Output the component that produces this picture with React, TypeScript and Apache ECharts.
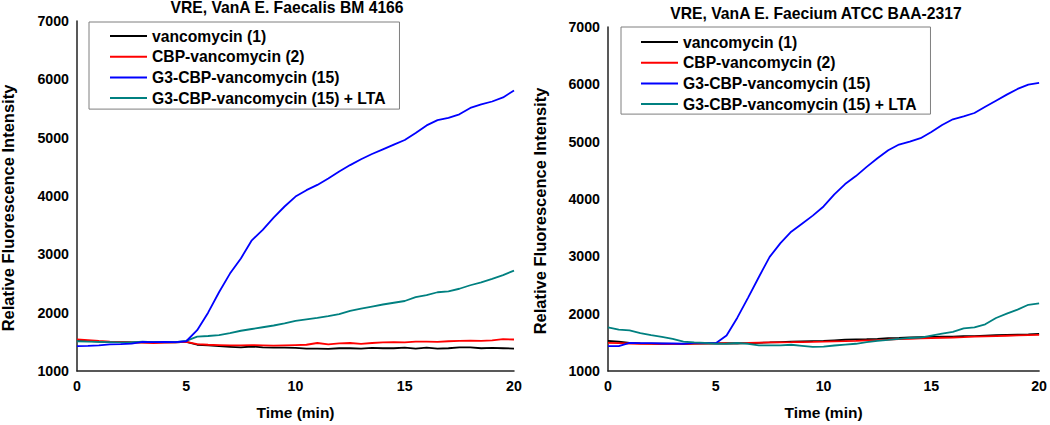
import React, { useEffect, useRef } from "react";
import * as echarts from "echarts";

const TIME = [0, 0.5, 1, 1.5, 2, 2.5, 3, 3.5, 4, 4.5, 5, 5.5, 6, 6.5, 7, 7.5, 8, 8.5, 9, 9.5, 10, 10.5, 11, 11.5, 12, 12.5, 13, 13.5, 14, 14.5, 15, 15.5, 16, 16.5, 17, 17.5, 18, 18.5, 19, 19.5, 20];

const SERIES_NAMES = ["vancomycin (1)", "CBP-vancomycin (2)", "G3-CBP-vancomycin (15)", "G3-CBP-vancomycin (15) + LTA"];
const COLORS = ["#000000", "#ff0000", "#0000ff", "#008080"];

const TITLE_LEFT = "VRE, VanA E. Faecalis BM 4166";
const TITLE_RIGHT = "VRE, VanA E. Faecium ATCC BAA-2317";
const X_NAME = "Time (min)";
const Y_NAME = "Relative Fluorescence Intensity";

// Left panel: E. faecalis
const L_VAN = [1520, 1515, 1505, 1500, 1495, 1490, 1495, 1490, 1495, 1490, 1500, 1450, 1440, 1425, 1415, 1405, 1420, 1405, 1400, 1400, 1395, 1385, 1385, 1380, 1390, 1390, 1385, 1395, 1390, 1390, 1400, 1385, 1400, 1385, 1390, 1405, 1405, 1390, 1395, 1390, 1385];
const L_CBP = [1540, 1530, 1515, 1505, 1500, 1490, 1485, 1480, 1485, 1490, 1500, 1460, 1450, 1445, 1440, 1440, 1445, 1440, 1435, 1440, 1445, 1450, 1480, 1455, 1475, 1480, 1465, 1480, 1490, 1495, 1490, 1505, 1505, 1500, 1510, 1515, 1520, 1515, 1525, 1545, 1540];
const L_G3 = [1425, 1430, 1440, 1455, 1460, 1470, 1500, 1495, 1500, 1495, 1510, 1700, 2000, 2350, 2670, 2930, 3240, 3420, 3630, 3820, 3990, 4100, 4190, 4300, 4420, 4530, 4630, 4720, 4800, 4880, 4960, 5080, 5210, 5300, 5340, 5400, 5510, 5570, 5620, 5690, 5810];
const L_G3LTA = [1510, 1505, 1500, 1495, 1490, 1490, 1505, 1495, 1500, 1495, 1515, 1590, 1600, 1615, 1650, 1690, 1720, 1750, 1780, 1815, 1860, 1885, 1910, 1940, 1975, 2030, 2070, 2105, 2140, 2170, 2200, 2265, 2300, 2350, 2365, 2410, 2470, 2520, 2580, 2645, 2720];

// Right panel: E. faecium
const R_VAN = [1525, 1510, 1490, 1482, 1478, 1475, 1472, 1472, 1478, 1482, 1480, 1478, 1480, 1485, 1492, 1498, 1505, 1510, 1515, 1520, 1525, 1535, 1545, 1550, 1555, 1562, 1572, 1578, 1585, 1590, 1595, 1598, 1601, 1608, 1610, 1618, 1625, 1630, 1635, 1640, 1647];
const R_CBP = [1490, 1485, 1480, 1475, 1472, 1470, 1468, 1470, 1478, 1482, 1485, 1488, 1490, 1490, 1495, 1498, 1500, 1502, 1505, 1508, 1512, 1518, 1522, 1527, 1535, 1540, 1549, 1555, 1560, 1570, 1575, 1580, 1584, 1590, 1598, 1605, 1610, 1615, 1620, 1625, 1630];
const R_G3 = [1433, 1435, 1490, 1485, 1485, 1480, 1480, 1475, 1490, 1490, 1485, 1620, 1930, 2280, 2640, 2990, 3230, 3430, 3570, 3710, 3870, 4080, 4260, 4400, 4560, 4710, 4850, 4950, 5000, 5060, 5170, 5290, 5390, 5440, 5500, 5610, 5715, 5820, 5920, 5995, 6025];
const R_G3LTA = [1763, 1720, 1707, 1660, 1625, 1595, 1560, 1513, 1500, 1490, 1476, 1480, 1492, 1475, 1446, 1446, 1446, 1458, 1440, 1420, 1425, 1445, 1460, 1475, 1502, 1525, 1543, 1562, 1576, 1584, 1618, 1650, 1682, 1742, 1760, 1815, 1925, 2000, 2070, 2155, 2180];

const LEFT_DATA = [L_VAN, L_CBP, L_G3, L_G3LTA];
const RIGHT_DATA = [R_VAN, R_CBP, R_G3, R_G3LTA];

const FONT = "'Liberation Sans', Arial, Helvetica, sans-serif";

function pairs(vals: number[]) {
  return TIME.map((t, i) => [t, vals[i]]);
}

function xAxisCfg(gridIndex: number) {
  return {
    type: "value",
    gridIndex,
    min: 0,
    max: 20,
    interval: 5,
    name: X_NAME,
    nameLocation: "middle",
    nameGap: 33,
    nameTextStyle: { fontFamily: FONT, fontWeight: "bold", fontSize: 15.5, color: "#000" },
    axisLine: { show: true, onZero: false, lineStyle: { color: "#222", width: 1.5 } },
    axisTick: { show: false },
    splitLine: { show: false },
    axisLabel: { margin: 8, fontFamily: FONT, fontWeight: "bold", fontSize: 14.2, color: "#000", formatter: (v: number) => String(v) },
  };
}

function yAxisCfg(gridIndex: number) {
  return {
    type: "value",
    gridIndex,
    min: 1000,
    max: 7000,
    interval: 1000,
    axisLine: { show: true, onZero: false, lineStyle: { color: "#222", width: 1.5 } },
    axisTick: { show: false },
    splitLine: { show: false },
    axisLabel: { margin: 8, fontFamily: FONT, fontWeight: "bold", fontSize: 14.2, color: "#000", formatter: (v: number) => String(v) },
  };
}

function legendCfg(left: number, top: number, padding: number[]) {
  return {
    orient: "vertical",
    left,
    top,
    padding,
    icon: "rect",
    itemWidth: 37,
    itemHeight: 2,
    itemGap: 4.7,
    borderColor: "#7f7f7f",
    borderWidth: 1,
    backgroundColor: "#fff",
    textStyle: { fontFamily: FONT, fontWeight: "bold", fontSize: 15.7, color: "#000", lineHeight: 16 },
    data: SERIES_NAMES,
  };
}

export default function App() {
  const ref = useRef<HTMLDivElement>(null);

  useEffect(() => {
    document.body.style.margin = "0";
    if (!ref.current) return;
    const chart = echarts.init(ref.current, undefined, { renderer: "svg" });

    const series: any[] = [];
    LEFT_DATA.forEach((vals, i) => {
      series.push({
        type: "line",
        name: SERIES_NAMES[i],
        xAxisIndex: 0,
        yAxisIndex: 0,
        data: pairs(vals),
        symbol: "none",
        lineStyle: { color: COLORS[i], width: 1.8 },
        itemStyle: { color: COLORS[i] },
        z: i === 2 ? 3 : 2,
      });
    });
    RIGHT_DATA.forEach((vals, i) => {
      series.push({
        type: "line",
        name: SERIES_NAMES[i],
        xAxisIndex: 1,
        yAxisIndex: 1,
        data: pairs(vals),
        symbol: "none",
        lineStyle: { color: COLORS[i], width: 1.8 },
        itemStyle: { color: COLORS[i] },
        z: 2,
      });
    });

    const titleStyle = { fontFamily: FONT, fontWeight: "bold", fontSize: 15.7, fill: "#000", textAlign: "center", textVerticalAlign: "middle" };
    const yNameStyle = { fontFamily: FONT, fontWeight: "bold", fontSize: 16.5, fill: "#000", textAlign: "center", textVerticalAlign: "middle" };

    chart.setOption({
      animation: false,
      backgroundColor: "#fff",
      grid: [
        { left: 77, top: 21, width: 437, height: 353 },
        { left: 608, top: 27, width: 434, height: 346 },
      ],
      xAxis: [xAxisCfg(0), xAxisCfg(1)],
      yAxis: [yAxisCfg(0), yAxisCfg(1)],
      legend: [legendCfg(89, 22, [6, 14, 3, 21]), legendCfg(621, 27, [7, 14, 2, 20])],
      graphic: [
        { type: "text", x: 287, y: 7, style: { ...titleStyle, text: TITLE_LEFT } },
        { type: "text", x: 816, y: 13, style: { ...titleStyle, text: TITLE_RIGHT } },
        { type: "text", x: 8, y: 208, rotation: Math.PI / 2, style: { ...yNameStyle, text: Y_NAME } },
        { type: "text", x: 539.5, y: 211, rotation: Math.PI / 2, style: { ...yNameStyle, text: Y_NAME } },
      ],
      series,
    });

    return () => chart.dispose();
  }, []);

  return <div ref={ref} style={{ position: "absolute", left: 0, top: 0, width: 1050, height: 425 }} />;
}
